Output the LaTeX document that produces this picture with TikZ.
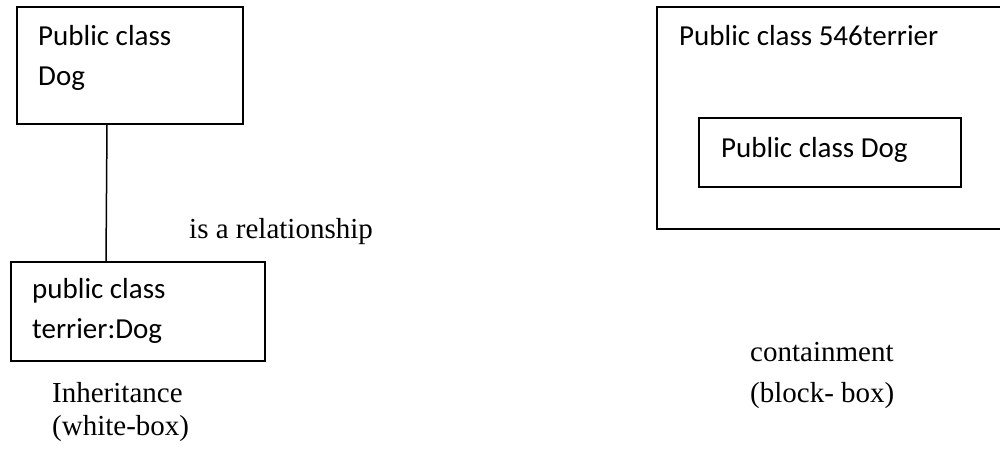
\documentclass[tikz,border=0pt]{standalone}
\usepackage{fontspec}
\setmainfont{Liberation Serif}
\newfontfamily\boxfont{Carlito}
\begin{document}
\begin{tikzpicture}[x=1pt,y=-1pt,
  frame/.style={draw=black,line width=1.5pt},
  boxtext/.style={anchor=base west,inner sep=0pt,font=\boxfont\fontsize{29}{40}\selectfont},
  label/.style={anchor=base west,inner sep=0pt,font=\fontsize{29}{40}\selectfont}]
\useasboundingbox (0,0) rectangle (1000,451);

% inheritance: parent and child classes
\draw[frame] (17,7) rectangle (243,124);
\node[boxtext] (dogA) at (38,45) {Public class};
\node[boxtext] (dogB) at (38,85) {Dog};
\coordinate (dogbot) at (107,124);

\draw[frame] (11,262) rectangle (265,361);
\node[boxtext] (terA) at (32,298) {public class};
\node[boxtext] (terB) at (32,338) {terrier:Dog};
\coordinate (tertop) at (106,262);

\draw[line width=1.5pt] (dogbot) -- (tertop);
\node[label] (isa) at (189,238) {is a relationship};
\node[label] (inh) at (52,402) {Inheritance};
\node[label] (wb) at (52,435) {(white-box)};

% containment: outer class holding the inner class
\draw[frame] (657,7) rectangle (1010,229);
\node[boxtext] (outer) at (679,45) {Public class 546terrier};
\draw[frame] (699,118) rectangle (961,187);
\node[boxtext] (inner) at (721,157) {Public class Dog};

\node[label] (cont) at (750,361) {containment};
\node[label] (bb) at (750,402) {(block- box)};
\end{tikzpicture}
\end{document}
